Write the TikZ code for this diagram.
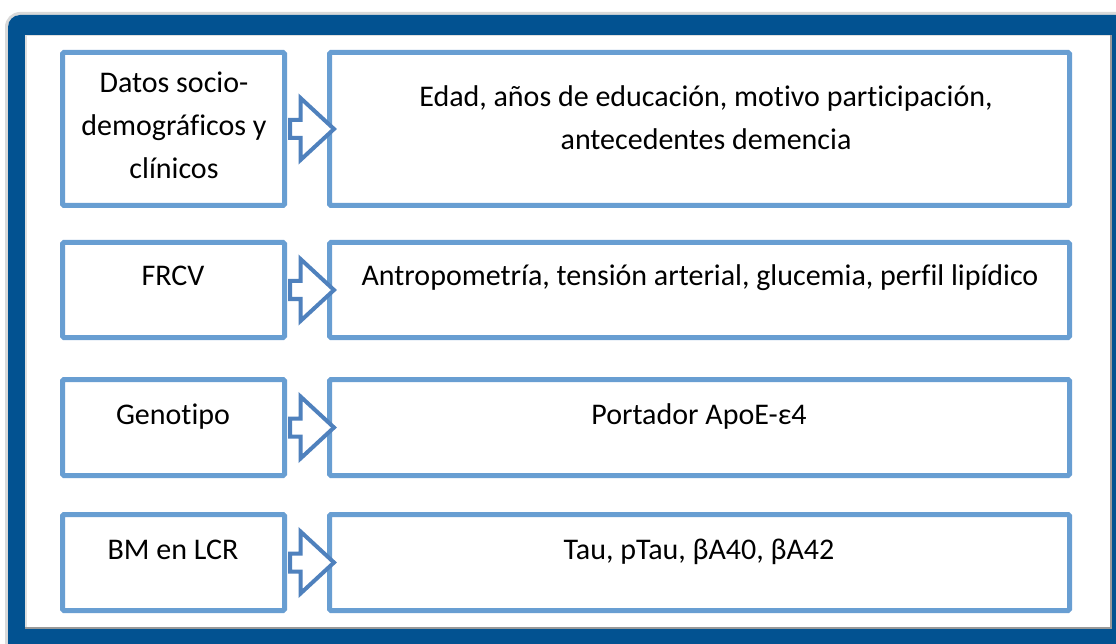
\documentclass[tikz,border=0pt]{standalone}
\usepackage{fontspec}
\setmainfont{Carlito}[Ligatures=NoCommon]
\definecolor{framecol}{RGB}{2,82,145}
\definecolor{boxcol}{RGB}{104,158,210}
\definecolor{arrowcol}{RGB}{79,129,189}
\tikzset{
  box/.style={draw=boxcol, line width=5pt, rounded corners=1.5pt, inner sep=0pt, outer sep=0pt, fill=white},
  txt/.style={align=center, font=\fontsize{30}{43}\selectfont, inner sep=0pt, text=black},
  bigarrow/.style={draw=arrowcol, fill=white, line width=4pt, line join=miter, miter limit=10},
  bigarr/.pic={\draw[bigarrow] (5.5,-9) -- (16,-9) -- (16,-31) -- (49.5,0) -- (16,31) -- (16,9) -- (5.5,9) -- cycle;}
}
\begin{document}
\begin{tikzpicture}[x=1pt,y=-1pt]
\useasboundingbox (0,0) rectangle (1116,644);
\fill[white] (0,0) rectangle (1116,644);
% soft outer shadow
\draw[black!15, line width=3pt] (6.5,644) -- (6.5,27) arc[start angle=180, end angle=270, radius=13.5] -- (1116,13.5);
% frame
\fill[framecol] (1116,644) -- (8,644) -- (8,27) arc[start angle=180, end angle=270, radius=12] -- (1116,15) -- cycle;
\fill[white] (25,35) rectangle (1112,629);
% inner shadow
\draw[black!12, line width=1.5pt] (25.75,629) -- (25.75,35.75) -- (1112,35.75);
\draw[black!40, line width=2pt] (1111,35) -- (1111,628) -- (25,628);

% boxes
\node[box, minimum width=222pt, minimum height=153pt] (l1) at (173.5,129) {};
\node[box, minimum width=740pt, minimum height=153pt] (r1) at (699.5,129) {};
\node[box, minimum width=222pt, minimum height=95pt] (l2) at (173.5,290) {};
\node[box, minimum width=740pt, minimum height=95pt] (r2) at (699.5,290) {};
\node[box, minimum width=222pt, minimum height=96pt] (l3) at (173.5,427.5) {};
\node[box, minimum width=740pt, minimum height=96pt] (r3) at (699.5,427.5) {};
\node[box, minimum width=222pt, minimum height=96pt] (l4) at (173.5,562.5) {};
\node[box, minimum width=740pt, minimum height=96pt] (r4) at (699.5,562.5) {};

% arrows
\pic at (l1.east) {bigarr};
\pic at (l2.east) {bigarr};
\pic at (l3.east) {bigarr};
\pic at (l4.east) {bigarr};

% texts
\node[txt] (t1l) at (174,125) {Datos socio-\\demográficos y\\clínicos};
\node[txt] (t1r) at (706,118) {Edad, años de educación, motivo participación,\\antecedentes demencia};
\node[txt, anchor=base] (t2l) at (173,286) {FRCV};
\node[txt, anchor=base] (t2r) at (700,286) {Antropometría, tensión arterial, glucemia, perfil lipídico};
\node[txt, anchor=base] (t3l) at (173,424) {Genotipo};
\node[txt, anchor=base] (t3r) at (699,424) {Portador ApoE-ε4};
\node[txt, anchor=base] (t4l) at (173,559) {BM en LCR};
\node[txt, anchor=base] (t4r) at (699,559) {Tau, pTau, βA40, βA42};
\end{tikzpicture}
\end{document}
